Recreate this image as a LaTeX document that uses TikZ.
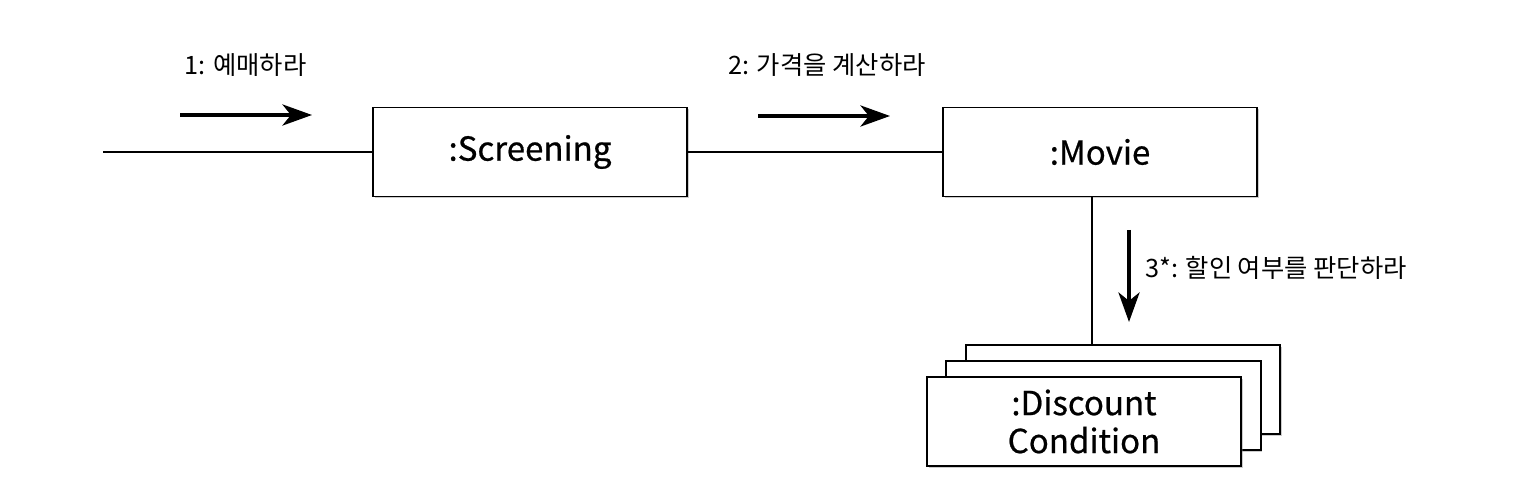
\documentclass[tikz,border=0pt]{standalone}
\usepackage{fontspec}
\setmainfont{Noto Sans CJK KR}
\newfontfamily\objfont{Noto Sans CJK KR}[FakeBold=0.6]
\usetikzlibrary{arrows.meta,positioning,shadows}

\tikzset{
	obj/.style={draw, line width=1.4pt, fill=white, minimum width=7.85cm, minimum height=2.225cm, align=center, font=\objfont\fontsize{23.5}{27}\selectfont, drop shadow={shadow xshift=1.2pt, shadow yshift=-1.2pt, opacity=0.4}},
	link/.style={line width=1.1pt},
	msg/.style={-{Stealth[length=21pt, width=15pt, inset=6pt]}, line width=2.6pt},
	lbl/.style={font=\fontsize{18}{20}\selectfont},
}

\begin{document}
\begin{tikzpicture}[x=0.025cm, y=-0.025cm]
		\fill[white](0,0)rectangle(1530,504);
		\node[obj](screening) at (530,152){:Screening};
		\node[obj](movie) at (1100,152){:Movie};
		\node[obj](back) at (1123,389.5){};
		\node[obj](middle) at (1103.5,405.5){};
		\node[obj](discount) at (1084,421.5){:Discount\\Condition};
		\coordinate(start) at (103,152);
		\draw[link](start)--(screening);
		\draw[link](screening)--(movie);
		\draw[link]([xshift=-0.2cm]movie.south)--([xshift=-0.2cm]movie.south|-back.north);
		% messages
		\coordinate(m1a) at (180,115); \coordinate(m1b) at (312,115);
		\draw[msg](m1a)--(m1b);
		\node[lbl](m1) at (245.5,65){1: 예매하라};
		\coordinate(m2a) at (758,116); \coordinate(m2b) at (890,116);
		\draw[msg](m2a)--(m2b);
		\node[lbl](m2) at (827,65){2: 가격을 계산하라};
		\coordinate(m3a) at (1129,230); \coordinate(m3b) at (1129,322);
		\draw[msg](m3a)--(m3b);
		\node[lbl, anchor=west, inner sep=0pt](m3) at (1145,268){3*: 할인 여부를 판단하라};
\end{tikzpicture}
\end{document}
